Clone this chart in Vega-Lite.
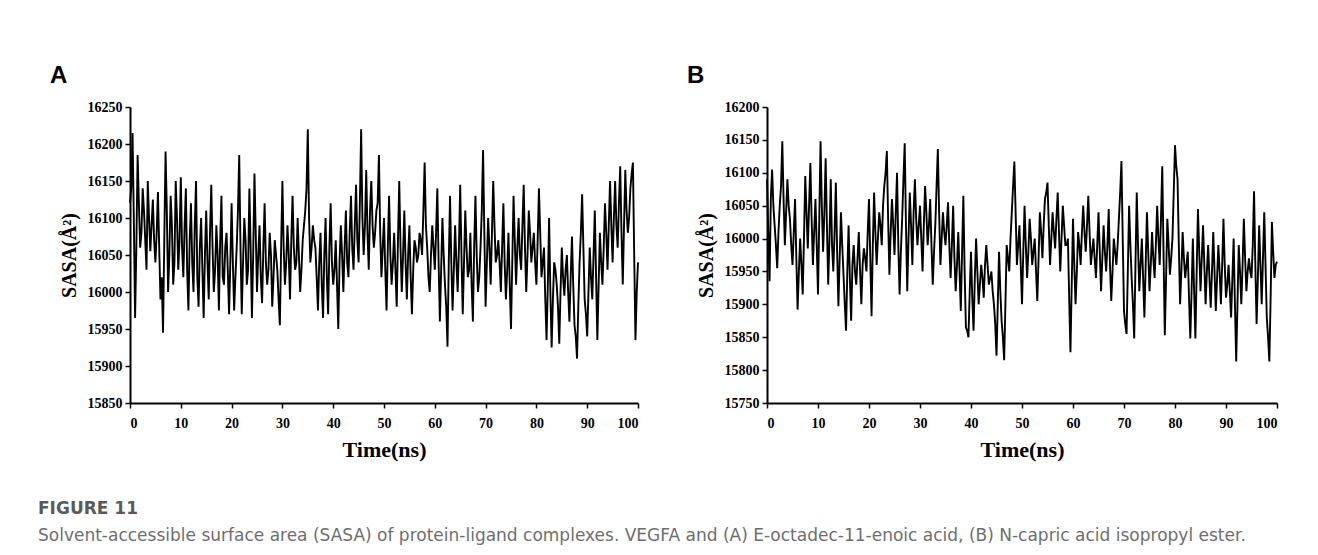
{
  "$schema": "https://vega.github.io/schema/vega-lite/v6.json",
  "background": "white",
  "padding": {"left": 38, "top": 64, "right": 10, "bottom": 10},
  "spacing": 45,
  "title": {
    "text": "FIGURE 11",
    "subtitle": "Solvent-accessible surface area (SASA) of protein-ligand complexes. VEGFA and (A) E-octadec-11-enoic acid, (B) N-capric acid isopropyl ester.",
    "orient": "bottom",
    "anchor": "start",
    "frame": "bounds",
    "dx": -12,
    "offset": 41,
    "font": "DejaVu Sans",
    "fontSize": 17,
    "fontWeight": "bold",
    "color": "#5a5a5a",
    "subtitleFont": "DejaVu Sans",
    "subtitleFontSize": 17,
    "subtitleColor": "#6e6e6e",
    "subtitlePadding": 10
  },
  "datasets": {
    "a": [
      {"t":0,"v":16120},{"t":0.5,"v":16215},{"t":1,"v":15965},{"t":1.5,"v":16185},{"t":2,"v":16060},{"t":2.5,"v":16140},{"t":3,"v":16070},{"t":3.5,"v":16150},{"t":4,"v":16055},{"t":4.5,"v":16125},
      {"t":5,"v":16040},{"t":5.5,"v":16135},{"t":6,"v":15990},{"t":6.5,"v":15945},{"t":7,"v":16190},{"t":7.5,"v":16000},{"t":8,"v":16130},{"t":8.5,"v":16010},{"t":9,"v":16150},{"t":9.5,"v":16030},
      {"t":10,"v":16155},{"t":10.5,"v":16020},{"t":11,"v":16140},{"t":11.5,"v":15975},{"t":12,"v":16120},{"t":12.5,"v":16000},{"t":13,"v":16150},{"t":13.5,"v":15980},{"t":14,"v":16100},{"t":14.5,"v":15965},
      {"t":15,"v":16110},{"t":15.5,"v":15990},{"t":16,"v":16145},{"t":16.5,"v":16000},{"t":17,"v":16090},{"t":17.5,"v":15975},{"t":18,"v":16130},{"t":18.5,"v":16010},{"t":19,"v":16080},{"t":19.5,"v":15970},
      {"t":20,"v":16120},{"t":20.5,"v":15975},{"t":21,"v":16060},{"t":21.5,"v":16185},{"t":22,"v":15970},{"t":22.5,"v":16100},{"t":23,"v":16010},{"t":23.5,"v":16140},{"t":24,"v":15965},{"t":24.5,"v":16160},
      {"t":25,"v":16000},{"t":25.5,"v":16090},{"t":26,"v":15985},{"t":26.5,"v":16120},{"t":27,"v":16010},{"t":27.5,"v":16080},{"t":28,"v":15980},{"t":28.5,"v":16070},{"t":29,"v":16030},{"t":29.5,"v":15955},
      {"t":30,"v":16150},{"t":30.5,"v":16010},{"t":31,"v":16090},{"t":31.5,"v":15990},{"t":32,"v":16130},{"t":32.5,"v":16030},{"t":33,"v":16100},{"t":33.5,"v":16000},{"t":34,"v":16070},{"t":34.5,"v":16110},
      {"t":35,"v":16220},{"t":35.5,"v":16040},{"t":36,"v":16090},{"t":36.5,"v":16060},{"t":37,"v":15975},{"t":37.5,"v":16080},{"t":38,"v":15965},{"t":38.5,"v":16100},{"t":39,"v":15970},{"t":39.5,"v":16120},
      {"t":40,"v":16010},{"t":40.5,"v":16070},{"t":41,"v":15950},{"t":41.5,"v":16090},{"t":42,"v":16000},{"t":42.5,"v":16110},{"t":43,"v":16020},{"t":43.5,"v":16130},{"t":44,"v":16030},{"t":44.5,"v":16145},
      {"t":45,"v":16040},{"t":45.5,"v":16220},{"t":46,"v":16050},{"t":46.5,"v":16165},{"t":47,"v":16030},{"t":47.5,"v":16150},{"t":48,"v":16060},{"t":48.5,"v":16110},{"t":49,"v":16185},{"t":49.5,"v":16020},
      {"t":50,"v":16100},{"t":50.5,"v":15975},{"t":51,"v":16130},{"t":51.5,"v":16010},{"t":52,"v":16080},{"t":52.5,"v":15980},{"t":53,"v":16150},{"t":53.5,"v":16000},{"t":54,"v":16110},{"t":54.5,"v":15990},
      {"t":55,"v":16090},{"t":55.5,"v":15970},{"t":56,"v":16070},{"t":56.5,"v":16040},{"t":57,"v":16080},{"t":57.5,"v":16050},{"t":58,"v":16175},{"t":58.5,"v":16060},{"t":59,"v":16000},{"t":59.5,"v":16090},
      {"t":60,"v":16030},{"t":60.5,"v":16140},{"t":61,"v":15960},{"t":61.5,"v":16100},{"t":62,"v":16010},{"t":62.5,"v":15926},{"t":63,"v":16130},{"t":63.5,"v":15975},{"t":64,"v":16090},{"t":64.5,"v":16000},
      {"t":65,"v":16145},{"t":65.5,"v":15970},{"t":66,"v":16110},{"t":66.5,"v":16020},{"t":67,"v":16080},{"t":67.5,"v":15960},{"t":68,"v":16130},{"t":68.5,"v":16000},{"t":69,"v":16060},{"t":69.5,"v":16192},
      {"t":70,"v":15980},{"t":70.5,"v":16100},{"t":71,"v":16010},{"t":71.5,"v":16150},{"t":72,"v":16040},{"t":72.5,"v":16070},{"t":73,"v":16000},{"t":73.5,"v":16120},{"t":74,"v":15990},{"t":74.5,"v":16080},
      {"t":75,"v":15950},{"t":75.5,"v":16130},{"t":76,"v":16010},{"t":76.5,"v":16100},{"t":77,"v":16030},{"t":77.5,"v":16145},{"t":78,"v":16000},{"t":78.5,"v":16110},{"t":79,"v":16040},{"t":79.5,"v":16080},
      {"t":80,"v":16010},{"t":80.5,"v":16140},{"t":81,"v":16020},{"t":81.5,"v":16060},{"t":82,"v":15935},{"t":82.5,"v":16100},{"t":83,"v":15925},{"t":83.5,"v":16040},{"t":84,"v":16010},{"t":84.5,"v":15930},
      {"t":85,"v":16060},{"t":85.5,"v":15995},{"t":86,"v":16050},{"t":86.5,"v":15960},{"t":87,"v":16075},{"t":87.5,"v":15955},{"t":88,"v":15910},{"t":88.5,"v":16040},{"t":89,"v":16132},{"t":89.5,"v":15990},
      {"t":90,"v":15940},{"t":90.5,"v":16060},{"t":91,"v":15990},{"t":91.5,"v":16110},{"t":92,"v":15935},{"t":92.5,"v":16080},{"t":93,"v":16010},{"t":93.5,"v":16120},{"t":94,"v":16030},{"t":94.5,"v":16150},
      {"t":95,"v":16040},{"t":95.5,"v":16150},{"t":96,"v":16060},{"t":96.5,"v":16170},{"t":97,"v":16010},{"t":97.5,"v":16165},{"t":98,"v":16080},{"t":98.5,"v":16140},{"t":99,"v":16175},{"t":99.5,"v":15935},
      {"t":100,"v":16040},
      {"t":0.25,"v":16140},{"t":0.75,"v":16100},{"t":1.25,"v":16060},{"t":1.75,"v":16120},{"t":2.25,"v":16080},{"t":2.75,"v":16110},{"t":3.25,"v":16030},{"t":3.75,"v":16100},{"t":4.25,"v":16090},{"t":4.75,"v":16070},
      {"t":5.25,"v":16080},{"t":5.75,"v":16060},{"t":6.25,"v":16020},{"t":6.75,"v":16070},{"t":7.25,"v":16110},{"t":7.75,"v":16050},{"t":8.25,"v":16090},{"t":8.75,"v":16040},{"t":9.25,"v":16100},{"t":9.75,"v":16070},
      {"t":10.25,"v":16060},{"t":10.75,"v":16090},{"t":11.25,"v":16030},{"t":11.75,"v":16070},{"t":12.25,"v":16040},{"t":12.75,"v":16090},{"t":13.25,"v":16020},{"t":13.75,"v":16060},{"t":14.25,"v":16030},{"t":14.75,"v":16050},
      {"t":15.25,"v":16040},{"t":15.75,"v":16080},{"t":16.25,"v":16060},{"t":16.75,"v":16030},{"t":17.25,"v":16050},{"t":17.75,"v":16070},{"t":18.25,"v":16020},{"t":18.75,"v":16060},{"t":19.25,"v":16030},{"t":19.75,"v":16040},
      {"t":20.25,"v":16040},{"t":20.75,"v":16020},{"t":21.25,"v":16110},{"t":21.75,"v":16060},{"t":22.25,"v":16040},{"t":22.75,"v":16070},{"t":23.25,"v":16030},{"t":23.75,"v":16060},{"t":24.25,"v":16050},{"t":24.75,"v":16080},
      {"t":25.25,"v":16050},{"t":25.75,"v":16020},{"t":26.25,"v":16060},{"t":26.75,"v":16040},{"t":27.25,"v":16030},{"t":27.75,"v":16050},{"t":28.25,"v":16020},{"t":28.75,"v":16050},{"t":29.25,"v":15990},{"t":29.75,"v":16060},
      {"t":30.25,"v":16060},{"t":30.75,"v":16040},{"t":31.25,"v":16050},{"t":31.75,"v":16070},{"t":32.25,"v":16060},{"t":32.75,"v":16040},{"t":33.25,"v":16050},{"t":33.75,"v":16030},{"t":34.25,"v":16090},{"t":34.75,"v":16140},
      {"t":35.25,"v":16100},{"t":35.75,"v":16060},{"t":36.25,"v":16070},{"t":36.75,"v":16020},{"t":37.25,"v":16040},{"t":37.75,"v":16010},{"t":38.25,"v":16050},{"t":38.75,"v":16020},{"t":39.25,"v":16060},{"t":39.75,"v":16040},
      {"t":40.25,"v":16030},{"t":40.75,"v":16010},{"t":41.25,"v":16040},{"t":41.75,"v":16050},{"t":42.25,"v":16060},{"t":42.75,"v":16040},{"t":43.25,"v":16080},{"t":43.75,"v":16060},{"t":44.25,"v":16090},{"t":44.75,"v":16070},
      {"t":45.25,"v":16120},{"t":45.75,"v":16100},{"t":46.25,"v":16090},{"t":46.75,"v":16080},{"t":47.25,"v":16110},{"t":47.75,"v":16090},{"t":48.25,"v":16080},{"t":48.75,"v":16120},{"t":49.25,"v":16080},{"t":49.75,"v":16060},
      {"t":50.25,"v":16030},{"t":50.75,"v":16060},{"t":51.25,"v":16050},{"t":51.75,"v":16040},{"t":52.25,"v":16030},{"t":52.75,"v":16070},{"t":53.25,"v":16060},{"t":53.75,"v":16050},{"t":54.25,"v":16040},{"t":54.75,"v":16050},
      {"t":55.25,"v":16020},{"t":55.75,"v":16030},{"t":56.25,"v":16060},{"t":56.75,"v":16050},{"t":57.25,"v":16070},{"t":57.75,"v":16110},{"t":58.25,"v":16090},{"t":58.75,"v":16020},{"t":59.25,"v":16050},{"t":59.75,"v":16060},
      {"t":60.25,"v":16080},{"t":60.75,"v":16040},{"t":61.25,"v":16030},{"t":61.75,"v":16050},{"t":62.25,"v":15980},{"t":62.75,"v":16040},{"t":63.25,"v":16040},{"t":63.75,"v":16030},{"t":64.25,"v":16040},{"t":64.75,"v":16060},
      {"t":65.25,"v":16050},{"t":65.75,"v":16040},{"t":66.25,"v":16060},{"t":66.75,"v":16030},{"t":67.25,"v":16010},{"t":67.75,"v":16060},{"t":68.25,"v":16050},{"t":68.75,"v":16020},{"t":69.25,"v":16110},{"t":69.75,"v":16080},
      {"t":70.25,"v":16040},{"t":70.75,"v":16060},{"t":71.25,"v":16080},{"t":71.75,"v":16090},{"t":72.25,"v":16050},{"t":72.75,"v":16040},{"t":73.25,"v":16060},{"t":73.75,"v":16040},{"t":74.25,"v":16030},{"t":74.75,"v":16010},
      {"t":75.25,"v":16040},{"t":75.75,"v":16070},{"t":76.25,"v":16060},{"t":76.75,"v":16050},{"t":77.25,"v":16090},{"t":77.75,"v":16060},{"t":78.25,"v":16050},{"t":78.75,"v":16080},{"t":79.25,"v":16060},{"t":79.75,"v":16040},
      {"t":80.25,"v":16070},{"t":80.75,"v":16080},{"t":81.25,"v":16040},{"t":81.75,"v":15990},{"t":82.25,"v":16010},{"t":82.75,"v":16000},{"t":83.25,"v":15990},{"t":83.75,"v":16030},{"t":84.25,"v":15980},{"t":84.75,"v":16000},
      {"t":85.25,"v":16020},{"t":85.75,"v":16030},{"t":86.25,"v":16000},{"t":86.75,"v":16020},{"t":87.25,"v":16010},{"t":87.75,"v":15940},{"t":88.25,"v":15980},{"t":88.75,"v":16080},{"t":89.25,"v":16060},{"t":89.75,"v":15970},
      {"t":90.25,"v":16000},{"t":90.75,"v":16020},{"t":91.25,"v":16050},{"t":91.75,"v":16020},{"t":92.25,"v":16010},{"t":92.75,"v":16040},{"t":93.25,"v":16060},{"t":93.75,"v":16080},{"t":94.25,"v":16090},{"t":94.75,"v":16090},
      {"t":95.25,"v":16100},{"t":95.75,"v":16090},{"t":96.25,"v":16120},{"t":96.75,"v":16080},{"t":97.25,"v":16090},{"t":97.75,"v":16110},{"t":98.25,"v":16100},{"t":98.75,"v":16160},{"t":99.25,"v":16050},{"t":99.75,"v":16000}
    ],
    "b": [
      {"t":0,"v":16090},{"t":0.5,"v":15935},{"t":1,"v":16105},{"t":1.5,"v":16020},{"t":2,"v":15955},{"t":2.5,"v":16050},{"t":3,"v":16148},{"t":3.5,"v":15990},{"t":4,"v":16090},{"t":4.5,"v":16030},
      {"t":5,"v":15960},{"t":5.5,"v":16060},{"t":6,"v":15892},{"t":6.5,"v":16000},{"t":7,"v":15915},{"t":7.5,"v":16095},{"t":8,"v":15985},{"t":8.5,"v":16115},{"t":9,"v":15960},{"t":9.5,"v":16060},
      {"t":10,"v":15915},{"t":10.5,"v":16148},{"t":11,"v":15980},{"t":11.5,"v":16122},{"t":12,"v":15930},{"t":12.5,"v":16090},{"t":13,"v":15950},{"t":13.5,"v":16085},{"t":14,"v":15897},{"t":14.5,"v":16040},
      {"t":15,"v":15945},{"t":15.5,"v":15860},{"t":16,"v":16020},{"t":16.5,"v":15875},{"t":17,"v":15990},{"t":17.5,"v":15930},{"t":18,"v":16010},{"t":18.5,"v":15900},{"t":19,"v":15985},{"t":19.5,"v":15950},
      {"t":20,"v":16060},{"t":20.5,"v":15882},{"t":21,"v":16070},{"t":21.5,"v":15960},{"t":22,"v":16040},{"t":22.5,"v":15990},{"t":23,"v":16080},{"t":23.5,"v":16133},{"t":24,"v":15945},{"t":24.5,"v":16060},
      {"t":25,"v":15975},{"t":25.5,"v":16100},{"t":26,"v":15915},{"t":26.5,"v":16030},{"t":27,"v":16145},{"t":27.5,"v":15920},{"t":28,"v":16070},{"t":28.5,"v":15960},{"t":29,"v":16090},{"t":29.5,"v":15990},
      {"t":30,"v":16050},{"t":30.5,"v":15950},{"t":31,"v":16080},{"t":31.5,"v":15990},{"t":32,"v":16060},{"t":32.5,"v":15930},{"t":33,"v":16020},{"t":33.5,"v":16136},{"t":34,"v":15960},{"t":34.5,"v":16040},
      {"t":35,"v":15990},{"t":35.5,"v":16055},{"t":36,"v":15940},{"t":36.5,"v":16050},{"t":37,"v":15920},{"t":37.5,"v":16010},{"t":38,"v":15890},{"t":38.5,"v":16065},{"t":39,"v":15865},{"t":39.5,"v":15850},
      {"t":40,"v":15980},{"t":40.5,"v":15860},{"t":41,"v":16000},{"t":41.5,"v":15900},{"t":42,"v":15960},{"t":42.5,"v":15910},{"t":43,"v":15990},{"t":43.5,"v":15930},{"t":44,"v":15950},{"t":44.5,"v":15900},
      {"t":45,"v":15822},{"t":45.5,"v":15980},{"t":46,"v":15875},{"t":46.5,"v":15815},{"t":47,"v":15990},{"t":47.5,"v":15950},{"t":48,"v":16040},{"t":48.5,"v":16117},{"t":49,"v":15960},{"t":49.5,"v":16020},
      {"t":50,"v":15900},{"t":50.5,"v":16050},{"t":51,"v":15940},{"t":51.5,"v":16030},{"t":52,"v":15960},{"t":52.5,"v":16000},{"t":53,"v":15905},{"t":53.5,"v":16040},{"t":54,"v":15970},{"t":54.5,"v":16060},
      {"t":55,"v":16085},{"t":55.5,"v":15960},{"t":56,"v":16040},{"t":56.5,"v":15985},{"t":57,"v":16070},{"t":57.5,"v":15950},{"t":58,"v":16050},{"t":58.5,"v":15990},{"t":59,"v":16000},{"t":59.5,"v":15827},
      {"t":60,"v":16030},{"t":60.5,"v":15900},{"t":61,"v":16010},{"t":61.5,"v":15960},{"t":62,"v":16050},{"t":62.5,"v":15980},{"t":63,"v":16065},{"t":63.5,"v":15960},{"t":64,"v":16000},{"t":64.5,"v":15940},
      {"t":65,"v":16040},{"t":65.5,"v":15920},{"t":66,"v":16020},{"t":66.5,"v":15950},{"t":67,"v":16045},{"t":67.5,"v":15905},{"t":68,"v":16000},{"t":68.5,"v":15960},{"t":69,"v":16030},{"t":69.5,"v":16118},
      {"t":70,"v":15890},{"t":70.5,"v":15855},{"t":71,"v":16050},{"t":71.5,"v":15940},{"t":72,"v":15848},{"t":72.5,"v":16070},{"t":73,"v":15920},{"t":73.5,"v":16000},{"t":74,"v":15880},{"t":74.5,"v":16040},
      {"t":75,"v":15920},{"t":75.5,"v":16010},{"t":76,"v":15940},{"t":76.5,"v":16050},{"t":77,"v":15960},{"t":77.5,"v":16110},{"t":78,"v":15853},{"t":78.5,"v":16030},{"t":79,"v":15945},{"t":79.5,"v":16000},
      {"t":80,"v":16142},{"t":80.5,"v":16090},{"t":81,"v":15900},{"t":81.5,"v":16010},{"t":82,"v":15940},{"t":82.5,"v":15980},{"t":83,"v":15848},{"t":83.5,"v":16000},{"t":84,"v":15848},{"t":84.5,"v":16045},
      {"t":85,"v":15920},{"t":85.5,"v":16020},{"t":86,"v":15900},{"t":86.5,"v":15990},{"t":87,"v":15895},{"t":87.5,"v":16010},{"t":88,"v":15890},{"t":88.5,"v":15990},{"t":89,"v":15900},{"t":89.5,"v":16030},
      {"t":90,"v":15910},{"t":90.5,"v":15960},{"t":91,"v":15880},{"t":91.5,"v":16000},{"t":92,"v":15813},{"t":92.5,"v":15990},{"t":93,"v":15900},{"t":93.5,"v":16030},{"t":94,"v":15920},{"t":94.5,"v":15970},
      {"t":95,"v":15940},{"t":95.5,"v":16072},{"t":96,"v":15870},{"t":96.5,"v":16020},{"t":97,"v":15900},{"t":97.5,"v":16040},{"t":98,"v":15880},{"t":98.5,"v":15813},{"t":99,"v":16025},{"t":99.5,"v":15940},
      {"t":100,"v":15965},
      {"t":0.25,"v":16010},{"t":0.75,"v":16060},{"t":1.25,"v":16050},{"t":1.75,"v":15990},{"t":2.25,"v":16010},{"t":2.75,"v":16080},{"t":3.25,"v":16060},{"t":3.75,"v":16040},{"t":4.25,"v":16050},{"t":4.75,"v":15990},
      {"t":5.25,"v":16010},{"t":5.75,"v":15970},{"t":6.25,"v":15950},{"t":6.75,"v":15960},{"t":7.25,"v":16000},{"t":7.75,"v":16040},{"t":8.25,"v":16050},{"t":8.75,"v":16030},{"t":9.25,"v":16010},{"t":9.75,"v":15990},
      {"t":10.25,"v":16030},{"t":10.75,"v":16050},{"t":11.25,"v":16040},{"t":11.75,"v":16020},{"t":12.25,"v":16000},{"t":12.75,"v":15990},{"t":13.25,"v":16010},{"t":13.75,"v":15980},{"t":14.25,"v":15970},{"t":14.75,"v":15990},
      {"t":15.25,"v":15900},{"t":15.75,"v":15950},{"t":16.25,"v":15940},{"t":16.75,"v":15960},{"t":17.25,"v":15950},{"t":17.75,"v":15970},{"t":18.25,"v":15950},{"t":18.75,"v":15960},{"t":19.25,"v":15970},{"t":19.75,"v":16010},
      {"t":20.25,"v":15970},{"t":20.75,"v":15990},{"t":21.25,"v":16010},{"t":21.75,"v":16000},{"t":22.25,"v":16020},{"t":22.75,"v":16050},{"t":23.25,"v":16100},{"t":23.75,"v":16030},{"t":24.25,"v":16010},{"t":24.75,"v":16020},
      {"t":25.25,"v":16040},{"t":25.75,"v":15990},{"t":26.25,"v":15980},{"t":26.75,"v":16090},{"t":27.25,"v":16020},{"t":27.75,"v":16000},{"t":28.25,"v":16020},{"t":28.75,"v":16040},{"t":29.25,"v":16030},{"t":29.75,"v":16020},
      {"t":30.25,"v":16000},{"t":30.75,"v":16020},{"t":31.25,"v":16040},{"t":31.75,"v":16020},{"t":32.25,"v":15990},{"t":32.75,"v":15980},{"t":33.25,"v":16080},{"t":33.75,"v":16040},{"t":34.25,"v":16000},{"t":34.75,"v":16010},
      {"t":35.25,"v":16020},{"t":35.75,"v":15990},{"t":36.25,"v":15990},{"t":36.75,"v":15970},{"t":37.25,"v":15960},{"t":37.75,"v":15950},{"t":38.25,"v":15980},{"t":38.75,"v":15950},{"t":39.25,"v":15860},{"t":39.75,"v":15920},
      {"t":40.25,"v":15910},{"t":40.75,"v":15940},{"t":41.25,"v":15950},{"t":41.75,"v":15930},{"t":42.25,"v":15940},{"t":42.75,"v":15960},{"t":43.25,"v":15960},{"t":43.75,"v":15940},{"t":44.25,"v":15920},{"t":44.75,"v":15870},
      {"t":45.25,"v":15900},{"t":45.75,"v":15920},{"t":46.25,"v":15850},{"t":46.75,"v":15900},{"t":47.25,"v":15970},{"t":47.75,"v":16000},{"t":48.25,"v":16080},{"t":48.75,"v":16040},{"t":49.25,"v":15990},{"t":49.75,"v":15960},
      {"t":50.25,"v":15980},{"t":50.75,"v":15990},{"t":51.25,"v":15980},{"t":51.75,"v":16000},{"t":52.25,"v":15980},{"t":52.75,"v":15950},{"t":53.25,"v":15970},{"t":53.75,"v":16010},{"t":54.25,"v":16020},{"t":54.75,"v":16070},
      {"t":55.25,"v":16020},{"t":55.75,"v":16000},{"t":56.25,"v":16010},{"t":56.75,"v":16030},{"t":57.25,"v":16010},{"t":57.75,"v":16000},{"t":58.25,"v":16020},{"t":58.75,"v":15990},{"t":59.25,"v":15910},{"t":59.75,"v":15930},
      {"t":60.25,"v":15960},{"t":60.75,"v":15950},{"t":61.25,"v":15990},{"t":61.75,"v":16010},{"t":62.25,"v":16010},{"t":62.75,"v":16020},{"t":63.25,"v":16010},{"t":63.75,"v":15980},{"t":64.25,"v":15970},{"t":64.75,"v":15990},
      {"t":65.25,"v":15980},{"t":65.75,"v":15970},{"t":66.25,"v":15980},{"t":66.75,"v":15990},{"t":67.25,"v":15960},{"t":67.75,"v":15950},{"t":68.25,"v":15980},{"t":68.75,"v":15990},{"t":69.25,"v":16070},{"t":69.75,"v":16000},
      {"t":70.25,"v":15870},{"t":70.75,"v":15950},{"t":71.25,"v":15990},{"t":71.75,"v":15900},{"t":72.25,"v":15960},{"t":72.75,"v":15990},{"t":73.25,"v":15960},{"t":73.75,"v":15940},{"t":74.25,"v":15960},{"t":74.75,"v":15980},
      {"t":75.25,"v":15960},{"t":75.75,"v":15970},{"t":76.25,"v":15990},{"t":76.75,"v":16000},{"t":77.25,"v":16030},{"t":77.75,"v":15980},{"t":78.25,"v":15940},{"t":78.75,"v":15990},{"t":79.25,"v":15970},{"t":79.75,"v":16070},
      {"t":80.25,"v":16110},{"t":80.75,"v":15990},{"t":81.25,"v":15950},{"t":81.75,"v":15970},{"t":82.25,"v":15960},{"t":82.75,"v":15910},{"t":83.25,"v":15920},{"t":83.75,"v":15920},{"t":84.25,"v":15950},{"t":84.75,"v":15980},
      {"t":85.25,"v":15970},{"t":85.75,"v":15960},{"t":86.25,"v":15950},{"t":86.75,"v":15940},{"t":87.25,"v":15950},{"t":87.75,"v":15950},{"t":88.25,"v":15940},{"t":88.75,"v":15950},{"t":89.25,"v":15960},{"t":89.75,"v":15960},
      {"t":90.25,"v":15930},{"t":90.75,"v":15920},{"t":91.25,"v":15940},{"t":91.75,"v":15900},{"t":92.25,"v":15900},{"t":92.75,"v":15950},{"t":93.25,"v":15960},{"t":93.75,"v":15970},{"t":94.25,"v":15950},{"t":94.75,"v":15950},
      {"t":95.25,"v":15990},{"t":95.75,"v":15960},{"t":96.25,"v":15940},{"t":96.75,"v":15960},{"t":97.25,"v":15970},{"t":97.75,"v":15960},{"t":98.25,"v":15850},{"t":98.75,"v":15910},{"t":99.25,"v":15980},{"t":99.75,"v":15960}
    ]
  },
  "hconcat": [
    {
      "width": 508,
      "height": 296,
      "data": {"name": "a"},
      "title": {"text": "A", "anchor": "start", "frame": "bounds", "dx": -9, "offset": 12, "font": "Liberation Sans", "fontSize": 24, "fontWeight": "bold", "color": "black"},
      "mark": {"type": "line", "color": "black", "strokeWidth": 1.9},
      "encoding": {
        "x": {"field": "t", "type": "quantitative", "title": "Time(ns)", "scale": {"domain": [0, 100], "nice": false}, "axis": {"values": [0,10,20,30,40,50,60,70,80,90,100]}},
        "y": {"field": "v", "type": "quantitative", "title": "SASA(Å²)", "scale": {"domain": [15850, 16250], "nice": false, "zero": false}, "axis": {"values": [15850,15900,15950,16000,16050,16100,16150,16200,16250], "format": "d"}}
      }
    },
    {
      "width": 510,
      "height": 296,
      "data": {"name": "b"},
      "title": {"text": "B", "anchor": "start", "frame": "bounds", "dx": -9, "offset": 12, "font": "Liberation Sans", "fontSize": 24, "fontWeight": "bold", "color": "black"},
      "mark": {"type": "line", "color": "black", "strokeWidth": 1.9},
      "encoding": {
        "x": {"field": "t", "type": "quantitative", "title": "Time(ns)", "scale": {"domain": [0, 100], "nice": false}, "axis": {"values": [0,10,20,30,40,50,60,70,80,90,100]}},
        "y": {"field": "v", "type": "quantitative", "title": "SASA(Å²)", "scale": {"domain": [15750, 16200], "nice": false, "zero": false}, "axis": {"values": [15750,15800,15850,15900,15950,16000,16050,16100,16150,16200], "format": "d"}}
      }
    }
  ],
  "config": {
    "view": {"stroke": null},
    "axis": {
      "grid": false,
      "domainColor": "black",
      "domainWidth": 2,
      "tickColor": "black",
      "tickWidth": 1.5,
      "tickSize": 5,
      "labelFont": "Liberation Serif",
      "labelFontWeight": "bold",
      "labelFontSize": 14,
      "labelColor": "black",
      "titleFont": "Liberation Serif",
      "titleFontWeight": "bold",
      "titleColor": "black"
    },
    "axisX": {"titleFontSize": 22, "titlePadding": 9, "labelPadding": 8},
    "axisY": {"titleFontSize": 20, "titlePadding": 8, "labelPadding": 3}
  }
}
